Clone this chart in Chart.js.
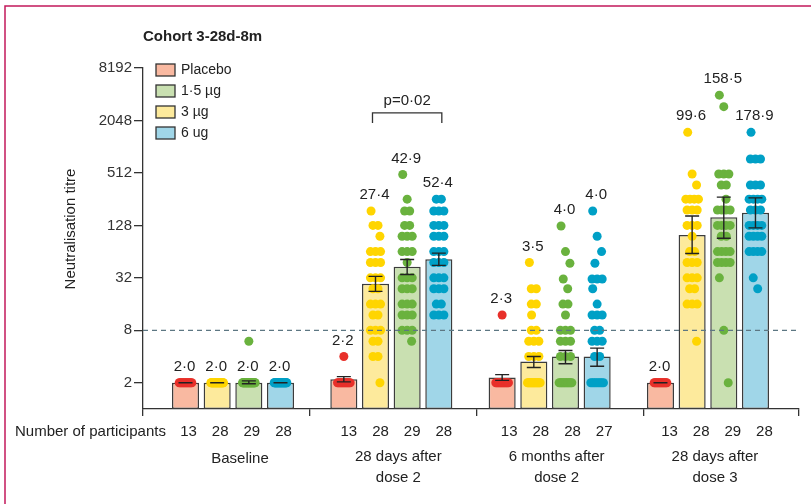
<!DOCTYPE html>
<html>
<head>
<meta charset="utf-8">
<script src="https://cdn.jsdelivr.net/npm/chart.js@4.4.1/dist/chart.umd.min.js"></script>
<style>
body{margin:0;background:#fff}
#wrap{width:811px;height:504px}
</style>
</head>
<body>
<div id="wrap"><canvas id="chart" width="811" height="504"></canvas></div>
<script>
const title = "Cohort 3-28d-8m"
const timepoints = [["Baseline"], ["28 days after", "dose 2"], ["6 months after", "dose 2"], ["28 days after", "dose 3"]]
const yTicks = [2, 8, 32, 128, 512, 2048, 8192]
const threshold = 8

// geometric mean titres (bar heights + printed numbers)
const gmtPlacebo = [2.0, 2.2, 2.3, 2.0]
const gmt3ug = [2.0, 27.4, 3.5, 99.6]
const gmt15ug = [2.0, 42.9, 4.0, 158.5]
const gmt6ug = [2.0, 52.4, 4.0, 178.9]

// 95% CI, [low, high]
const ciPlacebo = [[2.0, 2.0], [2.05, 2.35], [2.13, 2.48], [2.0, 2.0]]
const ci3ug = [[2.0, 2.0], [22.4, 33.3], [3.0, 4.0], [61, 164]]
const ci15ug = [[1.95, 2.1], [35, 52], [3.3, 4.7], [91, 270]]
const ci6ug = [[2.0, 2.0], [44.5, 61.5], [3.1, 5.0], [120, 265]]

// number of participants
const nPlacebo = [13, 13, 13, 13]
const n3ug = [28, 28, 28, 28]
const n15ug = [29, 29, 28, 29]
const n6ug = [28, 28, 27, 28]

// individual titres as [value, how many]
const dotsPlacebo = [
    [[2, 13]],
    [[2, 12], [4, 1]],
    [[2, 12], [12, 1]],
    [[2, 13]]
]
const dots3ug = [
    [[2, 28]],
    [[187, 1], [128, 2], [96, 1], [64, 3], [48, 3], [32, 3], [24, 2], [16, 3], [12, 2], [8, 3], [6, 2], [4, 2], [2, 1]],
    [[48, 1], [24, 2], [16, 2], [12, 1], [8, 2], [6, 3], [4, 3], [2, 14]],
    [[1496, 1], [498, 1], [372, 1], [256, 4], [192, 3], [128, 3], [96, 1], [64, 2], [48, 3], [32, 3], [24, 2], [16, 3], [6, 1]]
]
const dots15ug = [
    [[2, 28], [6, 1]],
    [[491, 1], [256, 1], [187, 2], [128, 2], [96, 3], [64, 3], [48, 1], [32, 3], [24, 3], [16, 3], [12, 3], [8, 3], [6, 1]],
    [[126, 1], [64, 1], [47, 1], [31, 1], [24, 1], [16, 2], [12, 1], [8, 3], [6, 3], [4, 3], [2, 11]],
    [[4000, 1], [2950, 1], [498, 3], [372, 2], [256, 1], [192, 4], [128, 4], [96, 2], [64, 4], [48, 4], [32, 1], [8, 1], [2, 1]]
]
const dots6ug = [
    [[2, 28]],
    [[256, 2], [187, 3], [128, 3], [96, 3], [64, 3], [48, 3], [32, 3], [24, 3], [16, 2], [12, 3]],
    [[187, 1], [96, 1], [64, 1], [47, 1], [31, 3], [24, 1], [16, 1], [12, 3], [8, 2], [6, 3], [4, 2], [2, 8]],
    [[1496, 1], [740, 3], [372, 3], [256, 4], [192, 3], [128, 4], [96, 4], [64, 4], [32, 1], [24, 1]]
]

const pTest = {text: "p=0·02", group: 1, from: 1, to: 3, level: 2500}

const FONT = '"Liberation Sans", Arial, sans-serif'
Chart.defaults.font.family = FONT
Chart.defaults.color = "#333"

// bar order on the axis; legend lists them in another order
const series = [
    {label: "Placebo", gmt: gmtPlacebo, ci: ciPlacebo, n: nPlacebo, dots: dotsPlacebo, fill: "#f9b9a1", dot: "#e8302a"},
    {label: "3 µg", gmt: gmt3ug, ci: ci3ug, n: n3ug, dots: dots3ug, fill: "#fdea9c", dot: "#ffd500"},
    {label: "1·5 µg", gmt: gmt15ug, ci: ci15ug, n: n15ug, dots: dots15ug, fill: "#c9e0b1", dot: "#6ab23e"},
    {label: "6 ug", gmt: gmt6ug, ci: ci6ug, n: n6ug, dots: dots6ug, fill: "#a0d6e8", dot: "#00a0c6"}
]
const legendOrder = [0, 2, 1, 3]

const xMin = -0.5685, xMax = 3.575
const groupEdges = [xMin, 0.486, 1.538, 2.592, xMax]
const catPct = 0.8, barPct = 0.855
const slotOffset = i => (i - 1.5) * catPct / series.length
const fmt = v => v.toFixed(1).replace(".", "·")

function dotPoints(s, si) {
    let pts = []
    s.dots.forEach((rows, g) => {
        rows.forEach(([v, c], r) => {
            for (let k = 0; k < c; k++) {
                let off
                if (c === 1) {
                    off = (((r * 7) % 5) - 2) * 0.014
                } else {
                    const half = Math.min((c - 1) / 2 * 0.032, 0.04)
                    off = -half + 2 * half * k / (c - 1)
                }
                pts.push({x: g + slotOffset(si) + off, y: v})
            }
        })
    })
    return pts
}

const barSets = series.map(s => ({
    type: "bar",
    label: s.label,
    data: s.gmt.map((v, g) => ({x: g, y: v})),
    backgroundColor: s.fill,
    borderColor: "#3c3c3c",
    borderWidth: 1.5,
    borderSkipped: false,
    categoryPercentage: catPct,
    barPercentage: barPct,
    order: 1
}))
const dotSets = series.map((s, si) => ({
    type: "scatter",
    label: s.label + " individual",
    data: dotPoints(s, si),
    backgroundColor: s.dot,
    pointRadius: 4.5,
    pointHoverRadius: 4.5,
    pointBorderWidth: 0,
    order: 0
}))

const extras = {
    id: "extras",
    beforeDraw(chart) {
        const ctx = chart.ctx
        ctx.save()
        ctx.strokeStyle = "#c2185b"
        ctx.lineWidth = 1.5
        ctx.beginPath()
        ctx.moveTo(5, chart.height)
        ctx.lineTo(5, 6)
        ctx.lineTo(chart.width, 6)
        ctx.stroke()
        ctx.restore()
    },
    afterDatasetsDraw(chart) {
        const ctx = chart.ctx
        const a = chart.chartArea
        const y = chart.scales.y
        ctx.save()
        // threshold line
        const yt = y.getPixelForValue(threshold)
        ctx.setLineDash([5, 4])
        ctx.strokeStyle = "#5d7783"
        ctx.lineWidth = 1.3
        ctx.beginPath()
        ctx.moveTo(a.left, yt)
        ctx.lineTo(a.right - 3, yt)
        ctx.stroke()
        ctx.setLineDash([])

        // error bars + numbers
        ctx.font = "15px " + FONT
        ctx.fillStyle = "#222"
        ctx.textAlign = "center"
        ctx.textBaseline = "middle"
        series.forEach((s, si) => {
            const meta = chart.getDatasetMeta(si)
            s.ci.forEach(([lo, hi], g) => {
                const x = meta.data[g].x
                const y1 = y.getPixelForValue(lo), y2 = y.getPixelForValue(hi)
                ctx.strokeStyle = "#222"
                ctx.lineWidth = 1.4
                ctx.beginPath()
                ctx.moveTo(x, y1); ctx.lineTo(x, y2)
                ctx.moveTo(x - 7, y1); ctx.lineTo(x + 7, y1)
                ctx.moveTo(x - 7, y2); ctx.lineTo(x + 7, y2)
                ctx.stroke()
                const top = g === 0 ? s.gmt[g] : Math.max(...s.dots[g].map(d => d[0]))
                ctx.fillText(fmt(s.gmt[g]), x - 1, y.getPixelForValue(top) - 16)
            })
        })

        // p value bracket
        const x1 = chart.getDatasetMeta(pTest.from).data[pTest.group].x - 3
        const x2 = chart.getDatasetMeta(pTest.to).data[pTest.group].x + 3
        const yb = y.getPixelForValue(pTest.level)
        ctx.strokeStyle = "#333"
        ctx.lineWidth = 1.3
        ctx.beginPath()
        ctx.moveTo(x1, yb + 10); ctx.lineTo(x1, yb); ctx.lineTo(x2, yb); ctx.lineTo(x2, yb + 10)
        ctx.stroke()
        ctx.fillText(pTest.text, (x1 + x2) / 2, yb - 12)
        ctx.restore()
    },
    afterDraw(chart) {
        const ctx = chart.ctx
        const a = chart.chartArea
        const x = chart.scales.x
        ctx.save()
        ctx.fillStyle = "#222"
        ctx.textBaseline = "middle"

        // title
        ctx.font = "bold 15px " + FONT
        ctx.textAlign = "left"
        ctx.fillText(title, a.left, 37)

        // legend
        ctx.font = "14px " + FONT
        legendOrder.forEach((si, k) => {
            const ly = 70 + k * 21
            ctx.fillStyle = series[si].fill
            ctx.fillRect(156, ly - 6, 19, 12)
            ctx.strokeStyle = "#333"
            ctx.lineWidth = 1.3
            ctx.strokeRect(156, ly - 6, 19, 12)
            ctx.fillStyle = "#222"
            ctx.fillText(series[si].label, 181, ly)
        })

        // axis title
        ctx.font = "15px " + FONT
        ctx.textAlign = "center"
        ctx.save()
        ctx.translate(71, 229)
        ctx.rotate(-Math.PI / 2)
        ctx.fillText("Neutralisation titre", 0, 0)
        ctx.restore()

        // participants row
        ctx.textAlign = "left"
        ctx.fillText("Number of participants", 15, 432)
        ctx.textAlign = "center"
        series.forEach((s, si) => {
            const meta = chart.getDatasetMeta(si)
            s.n.forEach((n, g) => ctx.fillText(String(n), meta.data[g].x + 3 + g * 2, 432))
        })

        // time point labels
        timepoints.forEach((lines, g) => {
            const cx = x.getPixelForValue(g) + 7
            if (lines.length === 1) ctx.fillText(lines[0], cx, 459)
            else lines.forEach((t, i) => ctx.fillText(t, cx, 457 + i * 21))
        })
        ctx.restore()
    }
}

new Chart(document.getElementById("chart"), {
    type: "bar",
    data: {datasets: [...barSets, ...dotSets]},
    options: {
        responsive: false,
        animation: false,
        devicePixelRatio: 1,
        layout: {padding: {top: 68, right: 12, bottom: 88, left: 0}},
        plugins: {legend: {display: false}, tooltip: {enabled: false}},
        scales: {
            x: {
                type: "linear", min: xMin, max: xMax, offset: false, display: false,
                afterBuildTicks: s => { s.ticks = [{value: xMin}, {value: xMax}] }
            },
            sep: {
                type: "linear", axis: "x", position: "bottom", min: xMin, max: xMax, offset: false,
                afterBuildTicks: s => { s.ticks = groupEdges.map(v => ({value: v})) },
                ticks: {display: false},
                grid: {drawOnChartArea: false, tickLength: 7, color: "#333", lineWidth: 1.3, offset: false},
                border: {color: "#333", width: 1.3}
            },
            y: {
                type: "logarithmic", min: 1, max: 8192,
                afterBuildTicks: s => { s.ticks = yTicks.map(v => ({value: v})) },
                afterFit: s => { s.width = 143 },
                ticks: {callback: v => String(v), font: {size: 15}, color: "#333", padding: 2, autoSkip: false},
                grid: {drawOnChartArea: false, tickLength: 9, color: "#333", lineWidth: 1.3},
                border: {color: "#333", width: 1.3}
            }
        }
    },
    plugins: [extras]
})
</script>
</body>
</html>
